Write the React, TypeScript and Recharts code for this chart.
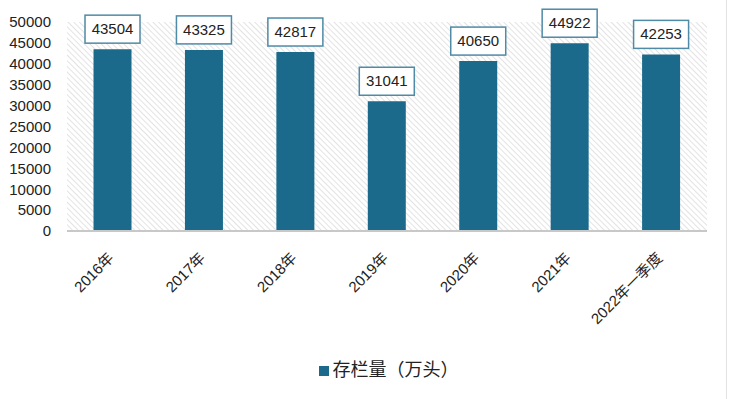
import React from "react";
import { BarChart, Bar, XAxis, YAxis, CartesianGrid, Legend, LabelList } from "recharts";

// category labels and values
const periods = ["2016年", "2017年", "2018年", "2019年", "2020年", "2021年", "2022年一季度"];
const stock = [43504, 43325, 42817, 31041, 40650, 44922, 42253];
const yTicks = [0, 5000, 10000, 15000, 20000, 25000, 30000, 35000, 40000, 45000, 50000];

const data = periods.map((p, i) => ({ period: p, stock: stock[i] }));

const BAR = "#1b6a8b";
const FONT = "'Liberation Sans', 'Noto Sans CJK SC', sans-serif";

// value box above each bar
const ValueBox = (props: any) => {
  const { x, y, width, value } = props;
  const cx = x + width / 2;
  const w = 55;
  const h = 28;
  const top = y - 6 - h;
  return (
    <g>
      <rect x={cx - w / 2} y={top} width={w} height={h} fill="#fff" stroke="#4f8aa6" strokeWidth={1.5} />
      <text x={cx} y={top + h / 2 + 5} textAnchor="middle" fontSize={15} fill="#222" fontFamily={FONT}>
        {value}
      </text>
    </g>
  );
};

const XTick = (props: any) => {
  const { x, y, payload } = props;
  return (
    <g transform={`translate(${x + 2},${y + 20})`}>
      <text transform="rotate(-45)" textAnchor="end" fontSize={15} fill="#222" fontFamily={FONT}>
        {payload.value}
      </text>
    </g>
  );
};

export default function App() {
  return (
    <div style={{ position: "absolute", left: 0, top: 0, width: 729, height: 399, background: "#fff" }}>
      <svg width={0} height={0} style={{ position: "absolute" }}>
        <defs>
          <pattern id="hatch" width={4} height={4} patternUnits="userSpaceOnUse" patternTransform="rotate(-45)">
            <rect width={4} height={4} fill="#ffffff" />
            <line x1={0} y1={0} x2={0} y2={4} stroke="#dadada" strokeWidth={1.5} />
          </pattern>
        </defs>
      </svg>
      <BarChart
        width={729}
        height={399}
        data={data}
        margin={{ top: 22, right: 22, left: 0, bottom: 0 }}
        barCategoryGap="29%"
      >
        <CartesianGrid vertical={false} horizontal={false} fill="url(#hatch)" stroke="none" />
        <XAxis
          dataKey="period"
          tick={<XTick />}
          tickLine={false}
          axisLine={{ stroke: "#c8c8c8", strokeWidth: 2 }}
          interval={0}
          height={124}
        />
        <YAxis
          domain={[0, 50000]}
          ticks={yTicks}
          interval={0}
          width={67}
          tickLine={false}
          axisLine={false}
          tickMargin={10}
          tick={{ fontSize: 15, fill: "#222", fontFamily: FONT }}
        />
        <Legend
          verticalAlign="bottom"
          align="center"
          iconType="square"
          iconSize={10}
          wrapperStyle={{ fontSize: 18, fontFamily: FONT, color: "#222", paddingBottom: 18, left: 40 }}
          formatter={(v: string) => <span style={{ color: "#222" }}>{v}</span>}
        />
        <Bar dataKey="stock" name="存栏量（万头）" fill={BAR} isAnimationActive={false}>
          <LabelList dataKey="stock" content={<ValueBox />} />
        </Bar>
      </BarChart>
      <div style={{ position: "absolute", left: 726, top: 0, width: 1, height: 399, background: "#e2e2e2" }} />
    </div>
  );
}
